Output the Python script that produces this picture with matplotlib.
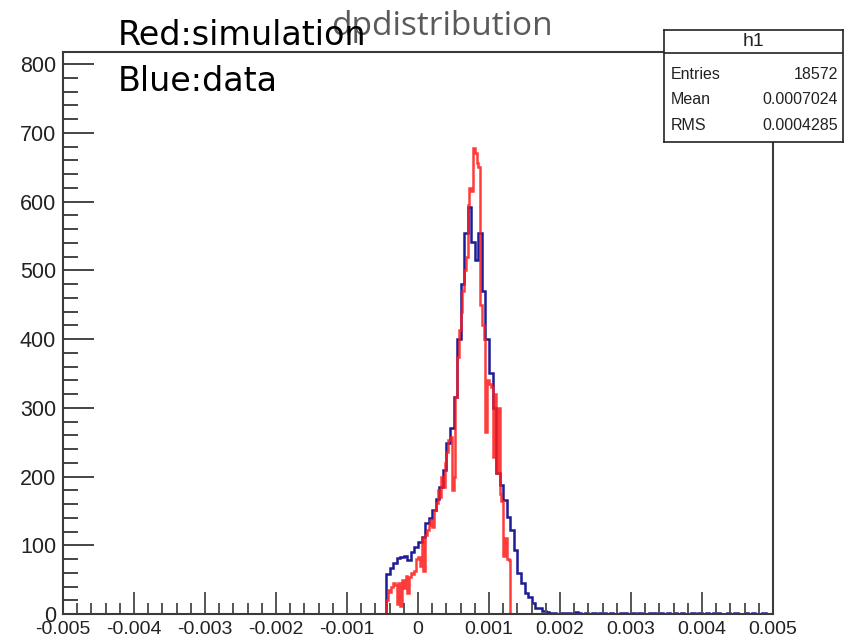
import numpy as np
import matplotlib.pyplot as plt
from matplotlib.ticker import MultipleLocator

# x range of the histograms
x_min, x_max = -0.005, 0.005

# data (blue): bin width 5e-5, first filled bin starts at -0.00045
blue_width = 0.00005
blue_start = -0.00045
blue_counts = [58, 67, 74, 81, 83, 84, 79, 90, 97, 105,
               112, 132, 140, 151, 168, 185, 209, 249, 270, 316,
               400, 480, 554, 592, 541, 515, 554, 470, 400, 350,
               300, 205, 188, 166, 141, 122, 93, 60, 45, 30,
               25, 16, 9, 9, 5, 3, 2, 1, 0, 2,
               1, 1, 0, 3, 1, 0, 1, 0, 1, 0,
               2, 1, 0, 1, 0, 0, 1, 2, 0, 1,
               0, 1, 0, 0, 2, 1, 0, 1, 0, 1,
               0, 2, 0, 1, 0, 0, 1, 0, 1, 0,
               1, 0, 2, 1, 0, 0, 1, 0, 1, 0,
               0, 1, 0, 1, 0, 0, 1, 0, 0]

# simulation (red): bin width 2.5e-5
red_width = 0.000025
red_start = -0.00045
red_counts = [20, 35, 32, 40, 45, 42, 15, 45, 12, 50,
              38, 55, 30, 54, 60, 58, 62, 80, 83, 70,
              110, 62, 115, 122, 130, 137, 127, 151, 161, 180,
              170, 200, 185, 220, 236, 253, 257, 180, 200, 316,
              374, 413, 440, 470, 500, 520, 595, 620, 615, 678,
              670, 656, 650, 450, 420, 400, 265, 340, 335, 330,
              228, 320, 205, 300, 175, 165, 85, 110, 80, 78]

stats_labels = ['Entries', 'Mean', 'RMS']
stats_values = ['18572', '0.0007024', '0.0004285']


def full_range(start, width, counts):
    # pad the filled bins with zeros so the histogram spans the whole axis
    n_total = int(round((x_max - x_min) / width))
    n_lead = int(round((start - x_min) / width))
    vals = np.zeros(n_total)
    vals[n_lead:n_lead + len(counts)] = counts
    edges = x_min + width * np.arange(n_total + 1)
    return vals, edges


fig = plt.figure(figsize=(8.5, 6.4), dpi=100)
ax = fig.add_axes([63 / 850, 26 / 640, 710 / 850, 562 / 640])

bv, be = full_range(blue_start, blue_width, blue_counts)
rv, re_ = full_range(red_start, red_width, red_counts)
ax.stairs(bv, be, color='#1c1c96', lw=1.8)
ax.stairs(rv, re_, color='#ff1a1a', lw=1.8, alpha=0.85)

ax.set_xlim(x_min, x_max)
ax.set_ylim(0, 817.5)

frame_col = '#3a3a3a'
for side in ['left', 'right', 'top', 'bottom']:
    ax.spines[side].set_color(frame_col)
    ax.spines[side].set_linewidth(1.5)

ax.xaxis.set_major_locator(MultipleLocator(0.001))
ax.xaxis.set_minor_locator(MultipleLocator(0.0002))
ax.yaxis.set_major_locator(MultipleLocator(100))
ax.yaxis.set_minor_locator(MultipleLocator(20))
ax.set_xticks(np.linspace(-0.005, 0.005, 11))
ax.set_xticklabels(['-0.005', '-0.004', '-0.003', '-0.002', '-0.001', '0',
                    '0.001', '0.002', '0.003', '0.004', '0.005'])

ax.tick_params(axis='x', which='major', direction='in', length=16, width=1.4,
               color='#555555', labelsize=14, labelcolor='#222222', pad=5)
ax.tick_params(axis='x', which='minor', direction='in', length=8, width=1.4,
               color='#555555')
ax.tick_params(axis='y', which='major', direction='in', length=22, width=1.4,
               color='#444444', labelsize=15.5, labelcolor='#222222', pad=5)
ax.tick_params(axis='y', which='minor', direction='in', length=11, width=1.4,
               color='#444444')
for lab in ax.get_xticklabels() + ax.get_yticklabels():
    lab.set_family('Liberation Sans')

# title and colour notes
fig.text(0.52, 0.958, 'dpdistribution', ha='center', va='center',
         fontsize=24, color='#5a5a5a', family='Open Sans')
fig.text(118 / 850, 0.945, 'Red:simulation', ha='left', va='center',
         fontsize=24, color='black', family='DejaVu Sans')
fig.text(118 / 850, 0.872, 'Blue:data', ha='left', va='center',
         fontsize=24, color='black', family='DejaVu Sans')

# stats box
sb = fig.add_axes([664 / 850, (640 - 142) / 640, 179 / 850, 112 / 640])
sb.set_xlim(0, 1)
sb.set_ylim(0, 1)
sb.set_xticks([])
sb.set_yticks([])
for side in sb.spines.values():
    side.set_color('#222222')
    side.set_linewidth(1.2)
sb.axhline(0.795, color='#222222', lw=1.2)
sb.text(0.5, 0.9, 'h1', ha='center', va='center', fontsize=14,
        family='Liberation Sans', color='#222222')
for k, (lab, val) in enumerate(zip(stats_labels, stats_values)):
    yy = 0.6 - k * 0.225
    sb.text(0.04, yy, lab, ha='left', va='center', fontsize=11.5,
            family='Liberation Sans', color='#222222')
    sb.text(0.97, yy, val, ha='right', va='center', fontsize=11.5,
            family='Liberation Sans', color='#222222')

fig.savefig('out.png', dpi=100)
